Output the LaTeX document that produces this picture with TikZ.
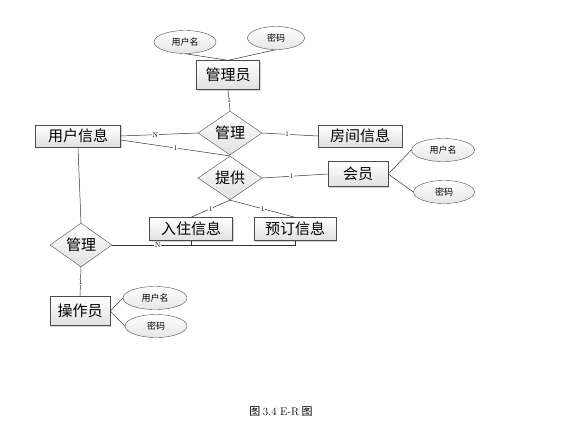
\documentclass[tikz,border=0pt]{standalone}
\usepackage{fontspec}
\newfontfamily\cjk{Noto Sans CJK SC}
\usepackage{tikz}
\usetikzlibrary{shapes.geometric, shadows}

\begin{document}
\begin{tikzpicture}[x=1pt, y=-1pt,
    entity/.style={rectangle, draw=black!70, top color=white, bottom color=black!12,
        drop shadow={shadow xshift=1.2pt, shadow yshift=-1.2pt, opacity=0.35},
        inner sep=0pt, font=\cjk\fontsize{15}{15}\selectfont},
    relation/.style={diamond, draw=black!70, top color=white, bottom color=black!12,
        minimum width=64pt, minimum height=34pt, inner sep=0pt,
        font=\cjk\fontsize{15}{15}\selectfont},
    attrib/.style={ellipse, draw=black!70, top color=white, bottom color=black!10,
        minimum width=62pt, minimum height=23pt, inner sep=0pt,
        font=\cjk\fontsize{9}{9}\selectfont},
    card/.style={fill=white, inner sep=0.6pt, font=\fontsize{7}{7}\selectfont},
    link/.style={draw=black!80, line width=0.5pt}]

    \useasboundingbox (0,0) rectangle (565,437);

    % entities
    \node at (228, 75) [entity, minimum width=63pt, minimum height=29pt] (admin) {管理员};
    \node at (78, 136) [entity, minimum width=85pt, minimum height=22pt] (userinfo) {用户信息};
    \node at (360, 136) [entity, minimum width=84pt, minimum height=22pt] (roominfo) {房间信息};
    \node at (358, 174) [entity, minimum width=60pt, minimum height=25pt] (member) {会员};
    \node at (191, 229) [entity, minimum width=83pt, minimum height=23pt] (checkin) {入住信息};
    \node at (295, 229) [entity, minimum width=82pt, minimum height=23pt] (booking) {预订信息};
    \node at (80, 311) [entity, minimum width=60pt, minimum height=29pt] (operator) {操作员};

    % relations
    \node at (230, 133) [relation] (manage1) {管理};
    \node at (230, 178) [relation] (provide) {提供};
    \node at (81, 245) [relation, minimum width=62pt] (manage2) {管理};

    % attributes
    \node at (185, 42) [attrib, minimum width=62pt] (a_name) {用户名};
    \node at (276, 38) [attrib, minimum width=57pt] (a_pwd) {密码};
    \node at (443, 150) [attrib, minimum width=63pt] (m_name) {用户名};
    \node at (444, 192) [attrib, minimum width=61pt] (m_pwd) {密码};
    \node at (155, 298) [attrib, minimum width=64pt] (o_name) {用户名};
    \node at (156, 326) [attrib, minimum width=62pt] (o_pwd) {密码};

    \draw[link] (a_name.south) -- (admin.north);
    \draw[link] (a_pwd.south) -- (admin.north);
    \draw[link] (member.east) -- (m_name.west);
    \draw[link] (member.east) -- (m_pwd.west);
    \draw[link] (operator.east) -- (o_name.west);
    \draw[link] (operator.east) -- (o_pwd.west);

    \draw[link] (admin.south) -- node[card] {1} (manage1.north);
    \draw[link] (userinfo.east) -- node[card, pos=0.45] {N} (manage1.west);
    \draw[link] (manage1.east) -- node[card, pos=0.45] {1} (roominfo.west);
    \draw[link] (userinfo.east) ++(0,4) -- node[card, pos=0.5] {1} (provide.north);
    \draw[link] (provide.east) -- node[card, pos=0.45] {1} (member.west);
    \draw[link] (provide.south) -- node[card] {1} (checkin.north);
    \draw[link] (provide.south) -- node[card] {1} (booking.north);
    \draw[link] (userinfo.south) -- (manage2.north);
    \draw[link] (manage2.south) -- node[card] {1} (operator.north);
    \draw[link] (manage2.east) -- node[card, pos=0.25] {N} (manage2.east -| booking.south) -- (booking.south);
    \draw[link] (checkin.south) -- (checkin.south |- manage2.east);

    \node at (281, 412) (caption) {\cjk\fontsize{11}{11}\selectfont 图 {\rmfamily 3.4 E-R} 图};
\end{tikzpicture}
\end{document}
